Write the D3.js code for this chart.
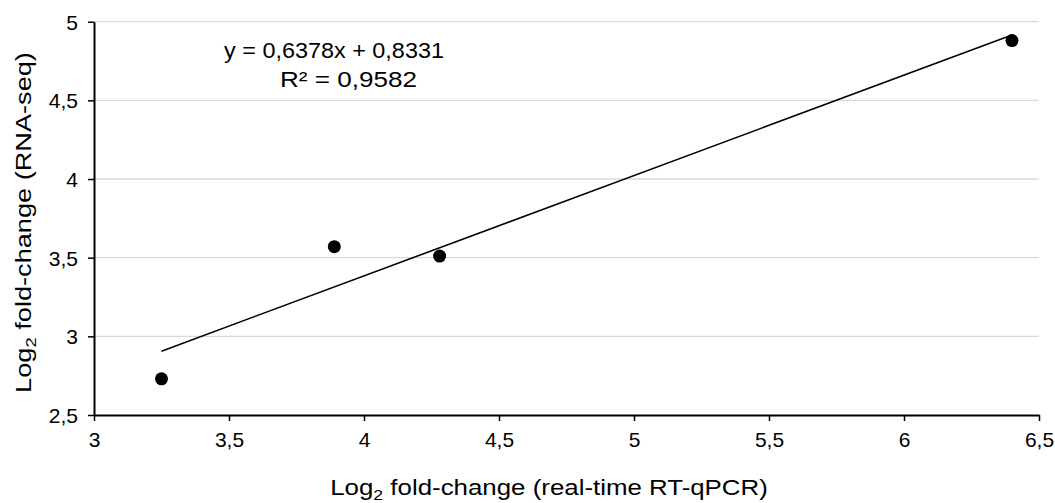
<!DOCTYPE html>
<html><head><meta charset="utf-8">
<script src="https://cdn.jsdelivr.net/npm/d3@7"></script>
<style>body{margin:0;background:#fff}svg{display:block}text{font-family:"Liberation Sans",Arial,sans-serif;fill:#000}</style>
</head><body><svg id="c" width="1055" height="503"></svg>
<script>
const xValues = [3.25, 3.89, 4.28, 6.40];
const yValues = [2.73, 3.57, 3.51, 4.88];
const xTicks = [3, 3.5, 4, 4.5, 5, 5.5, 6, 6.5];
const yTicks = [2.5, 3, 3.5, 4, 4.5, 5];
const slope = 0.6378, intercept = 0.8331;
const eqLabel = "y = 0,6378x + 0,8331";
const r2Label = "R² = 0,9582";
const xTitle = "fold-change (real-time RT-qPCR)";
const yTitle = "fold-change (RNA-seq)";

const svg = d3.select("#c");
const x = d3.scaleLinear().domain([3, 6.5]).range([94, 1039]);
const y = d3.scaleLinear().domain([2.5, 5]).range([415, 21.7]);
const fmt = d => String(d).replace(".", ",");

// gridlines
svg.append("g").selectAll("line").data(yTicks.filter(d => d > 2.5)).join("line")
  .attr("x1", x(3)).attr("x2", x(6.5)).attr("y1", d => y(d)).attr("y2", d => y(d))
  .attr("stroke", "#d9d9d9").attr("stroke-width", 1.3);

// axes
const xa = svg.append("g").attr("transform", `translate(0,${y(2.5)})`)
  .call(d3.axisBottom(x).tickValues(xTicks).tickFormat(fmt).tickSize(6).tickSizeOuter(0));
const ya = svg.append("g").attr("transform", `translate(${x(3)},0)`)
  .call(d3.axisLeft(y).tickValues(yTicks).tickFormat(fmt).tickSize(6).tickSizeOuter(0));
[xa, ya].forEach(a => {
  a.select(".domain").attr("stroke", "#000").attr("stroke-width", 2);
  a.selectAll(".tick line").attr("stroke", "#000").attr("stroke-width", 1.5);
  a.selectAll(".tick text").attr("font-size", 21).attr("font-family", '"Liberation Sans",Arial,sans-serif').attr("fill", "#000");
});
xa.selectAll(".tick text").attr("dy", null).attr("y", 32);
ya.selectAll(".tick text").attr("x", -16).attr("dy", "0.35em");

// trendline
const x0 = d3.min(xValues), x1 = d3.max(xValues);
svg.append("line").attr("x1", x(x0)).attr("y1", y(slope * x0 + intercept))
  .attr("x2", x(x1)).attr("y2", y(slope * x1 + intercept))
  .attr("stroke", "#000").attr("stroke-width", 1.6);

// points
svg.append("g").selectAll("circle").data(xValues.map((d, i) => [d, yValues[i]])).join("circle")
  .attr("cx", d => x(d[0])).attr("cy", d => y(d[1])).attr("r", 6.5).attr("fill", "#000");

// stretched text helper
function stretched(g, base, rot, width, build) {
  const wrap = svg.append("g");
  const t = wrap.append("text").attr("text-anchor", "middle").attr("font-size", 22);
  build(t);
  const w = t.node().getBBox().width;
  const s = width / w;
  wrap.attr("transform", `translate(${base[0]},${base[1]})${rot ? " rotate(-90)" : ""} scale(${s},1)`);
  return wrap;
}

stretched(svg, [334, 58], false, 220, t => t.text(eqLabel));
stretched(svg, [348.5, 87], false, 137, t => t.text(r2Label));

function logTitle(rest) {
  return t => {
    t.append("tspan").text("Log");
    t.append("tspan").attr("font-size", 15).attr("dy", 5).text("2");
    t.append("tspan").attr("dy", -5).text(" " + rest);
  };
}
stretched(svg, [549, 495], false, 438, logTitle(xTitle));
stretched(svg, [31, 222.5], true, 341, logTitle(yTitle));
</script></body></html>
